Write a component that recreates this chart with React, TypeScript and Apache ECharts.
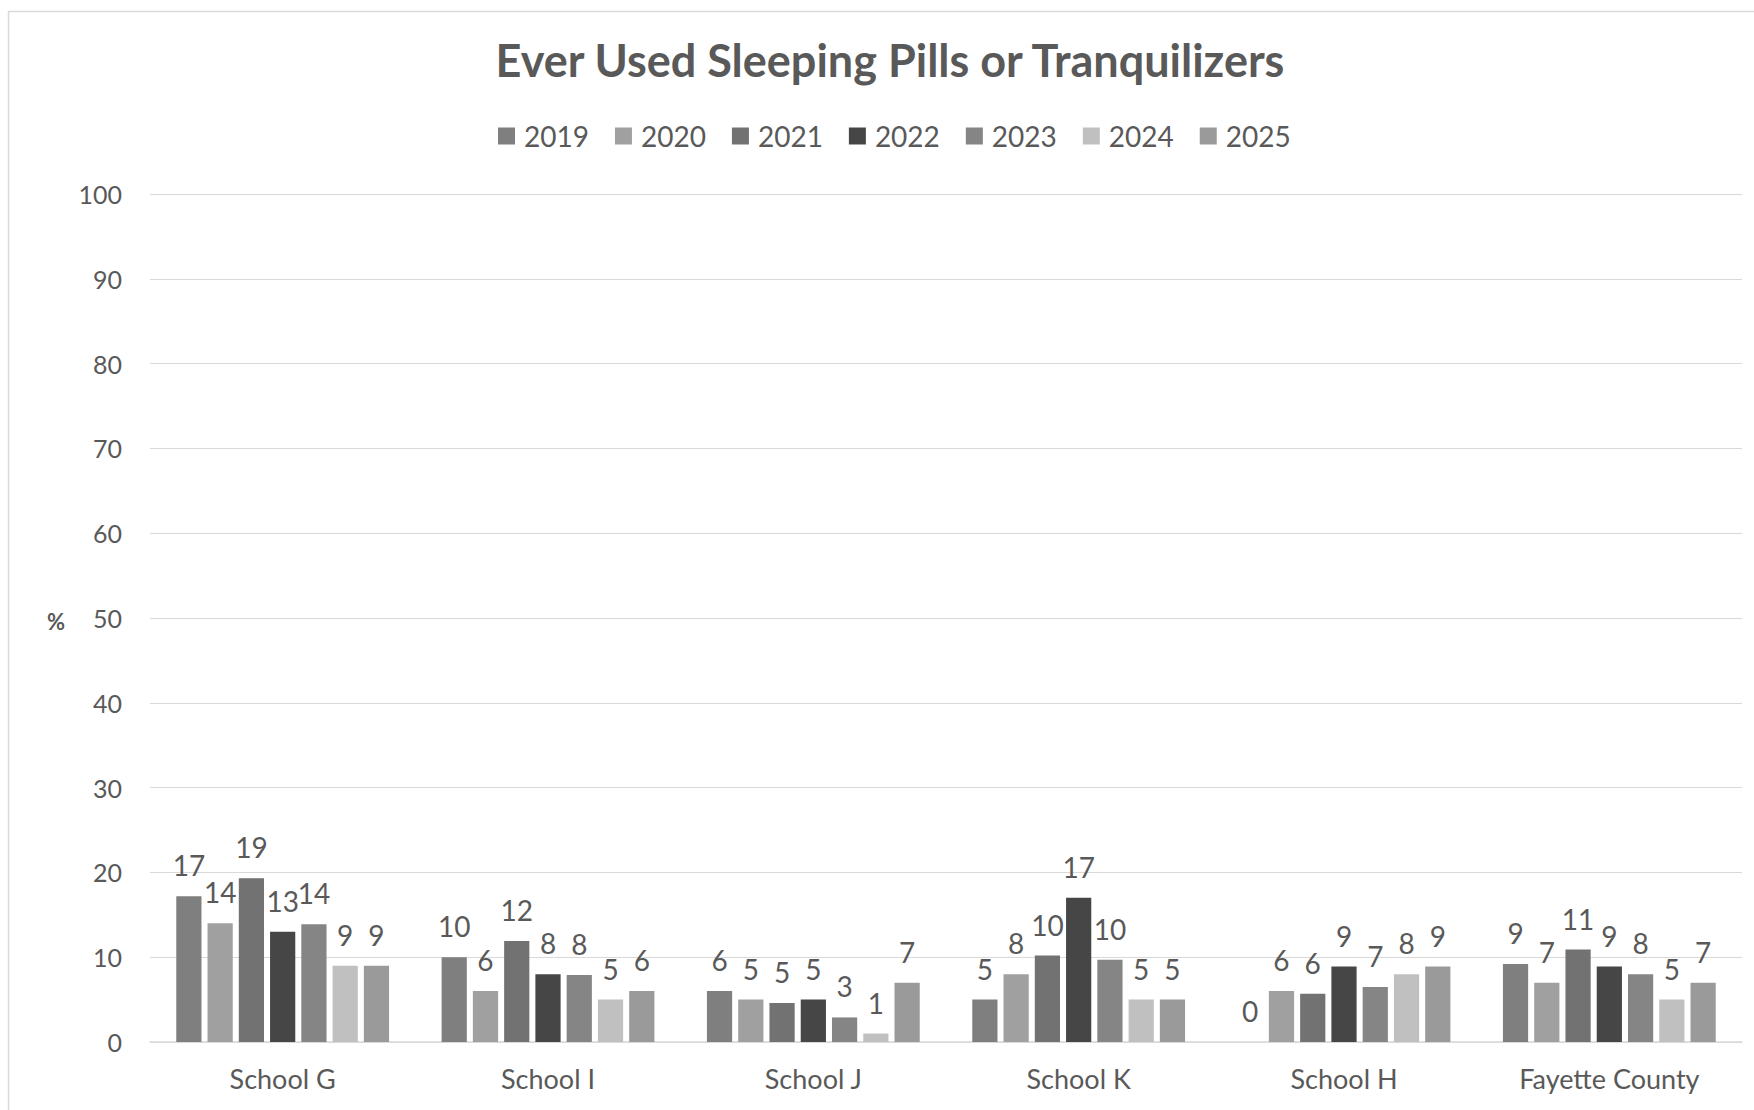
import React, { useEffect, useRef } from "react";
import * as echarts from "echarts";

const categories = ["School G", "School I", "School J", "School K", "School H", "Fayette County"];
const years = ["2019", "2020", "2021", "2022", "2023", "2024", "2025"];
const y2019 = [17.2, 10.0, 6.0, 5.0, 0, 9.2];
const y2020 = [14.0, 6.0, 5.0, 8.0, 6.0, 7.0];
const y2021 = [19.3, 11.9, 4.6, 10.2, 5.7, 10.9];
const y2022 = [13.0, 8.0, 5.0, 17.0, 8.9, 8.9];
const y2023 = [13.9, 7.9, 2.9, 9.7, 6.5, 8.0];
const y2024 = [9.0, 5.0, 1.0, 5.0, 8.0, 5.0];
const y2025 = [9.0, 6.0, 7.0, 5.0, 8.9, 7.0];
const seriesValues = [y2019, y2020, y2021, y2022, y2023, y2024, y2025];
const colors = ["#7f7f7f", "#a0a0a0", "#727272", "#464646", "#858585", "#c0c0c0", "#9a9a9a"];
const yTicks = { min: 0, max: 100, interval: 10 };

const FONT = "Lato";
const TXT = "#595959";

export default function App() {
  const ref = useRef<HTMLDivElement>(null);
  useEffect(() => {
    if (!ref.current) return;
    const chart = echarts.init(ref.current, undefined, { renderer: "svg" });
    chart.setOption({
      animation: false,
      backgroundColor: "#ffffff",
      textStyle: { fontFamily: FONT },
      title: {
        text: "Ever Used Sleeping Pills or Tranquilizers",
        left: 890,
        textAlign: "center",
        top: 37,
        padding: 0,
        textStyle: { fontFamily: FONT, fontWeight: "bold", fontSize: 45, color: TXT },
      },
      legend: {
        data: years,
        left: 498,
        top: 122,
        padding: 0,
        itemWidth: 17,
        itemHeight: 17,
        itemGap: 26,
        icon: "rect",
        textStyle: { fontFamily: FONT, fontSize: 28, color: TXT, padding: [0, 0, 0, 4] },
      },
      grid: { left: 150, right: 12, top: 194, bottom: 68, containLabel: false },
      xAxis: {
        type: "category",
        data: categories,
        axisLine: { lineStyle: { color: "#d9d9d9", width: 1.5 } },
        axisTick: { show: false },
        axisLabel: { color: TXT, fontSize: 27, fontFamily: FONT, margin: 23 },
      },
      yAxis: {
        type: "value",
        min: yTicks.min,
        max: yTicks.max,
        interval: yTicks.interval,
        axisLine: { show: false },
        axisTick: { show: false },
        splitLine: { lineStyle: { color: "#d9d9d9", width: 1 } },
        axisLabel: { color: TXT, fontSize: 25, fontFamily: FONT, margin: 28 },
      },
      graphic: [
        {
          type: "rect",
          shape: { x: 8.5, y: 11.5, width: 1800, height: 1200 },
          style: { fill: "none", stroke: "#d9d9d9", lineWidth: 1.5 },
          silent: true,
        },
        {
          type: "text",
          x: 56,
          y: 621,
          style: {
            text: "%",
            fontFamily: FONT,
            fontSize: 22,
            fontWeight: "bold",
            fill: TXT,
            align: "center",
            verticalAlign: "middle",
          },
        },
      ],
      series: years.map((name, i) => ({
        name,
        type: "bar",
        data: seriesValues[i],
        itemStyle: { color: colors[i] },
        barGap: "24%",
        barCategoryGap: "19.8%",
        label: {
          show: true,
          position: "top",
          distance: 17,
          color: TXT,
          fontSize: 28,
          fontFamily: FONT,
          formatter: (p: any) => String(Math.round(p.value)),
        },
      })),
    });
    return () => chart.dispose();
  }, []);
  return (
    <div
      ref={ref}
      style={{ position: "absolute", left: 0, top: 0, width: 1754, height: 1110 }}
    />
  );
}
